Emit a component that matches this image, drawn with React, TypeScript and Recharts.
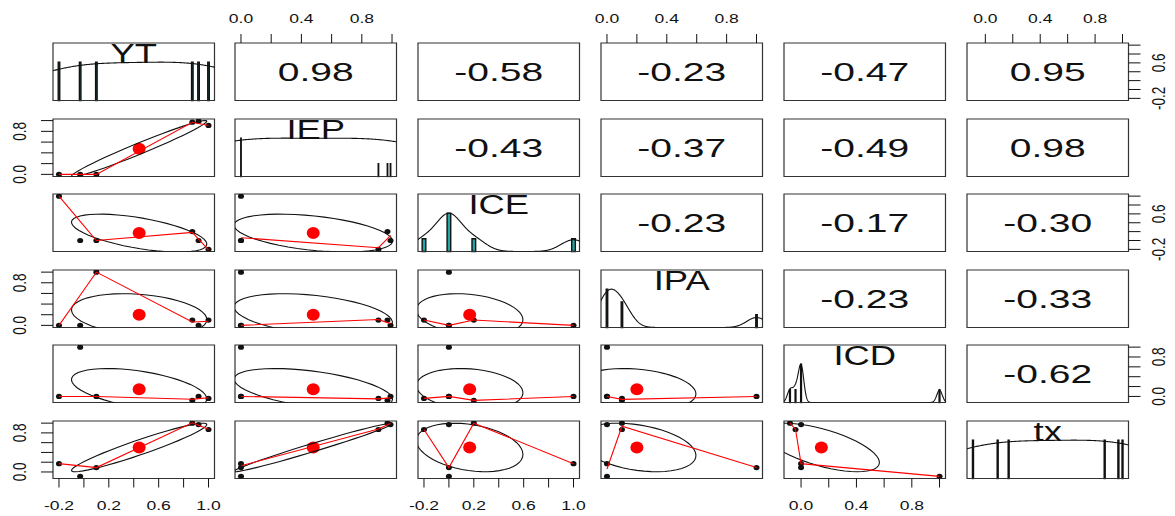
import React from 'react';
import { ScatterChart, Scatter, XAxis, YAxis, ReferenceArea, Customized } from 'recharts';

// six cases
const YT = [-0.2, -0.03, 0.1, 0.87, 0.92, 1.0];
const IEP = [0, 0, 0, 0.97, 0.99, 0.91];
const ICE = [1.0, 0, 0, 0.2, 0, -0.2];
const IPA = [0, 0, 1.0, 0.1, 0, 0.1];
const ICD = [0, 1.0, 0, -0.08, 0, -0.04];
const tx = [0.17, -0.09, 0.09, 1.0, 0.97, 0.87];

const varNames = ['YT', 'IEP', 'ICE', 'IPA', 'ICD', 'tx'];
const series = [YT, IEP, ICE, IPA, ICD, tx];

// correlations printed in the upper triangle, row by row
const corRow1 = ['0.98', '-0.58', '-0.23', '-0.47', '0.95'];
const corRow2 = ['-0.43', '-0.37', '-0.49', '0.98'];
const corRow3 = ['-0.23', '-0.17', '-0.30'];
const corRow4 = ['-0.23', '-0.33'];
const corRow5 = ['-0.62'];
const corRows = [corRow1, corRow2, corRow3, corRow4, corRow5];

const ticksWide = [-0.2, 0, 0.2, 0.4, 0.6, 0.8, 1.0];
const ticksUnit = [0, 0.2, 0.4, 0.6, 0.8, 1.0];
const varTicks = [ticksWide, ticksUnit, ticksWide, ticksUnit, ticksUnit, ticksUnit];

const N = 6;
const PAD = 52;
const PW = 161.5;
const PH = 57.5;
const colX = (c: number) => 52.5 + 182.8 * c;
const rowY = (r: number) => 43 + 75.5 * r;
const FONT = "'Liberation Sans', Arial, Helvetica, sans-serif";
const SX = 1.3;

const mean = (v: number[]) => v.reduce((a, b) => a + b, 0) / v.length;
const sd = (v: number[]) => {
  const m = mean(v);
  return Math.sqrt(v.reduce((a, b) => a + (b - m) ** 2, 0) / (v.length - 1));
};
const cor = (a: number[], b: number[]) => {
  const ma = mean(a), mb = mean(b);
  let sab = 0, saa = 0, sbb = 0;
  a.forEach((x, i) => {
    sab += (x - ma) * (b[i] - mb);
    saa += (x - ma) ** 2;
    sbb += (b[i] - mb) ** 2;
  });
  return sab / Math.sqrt(saa * sbb);
};
const quantile7 = (s: number[], p: number) => {
  const h = (s.length - 1) * p;
  const lo = Math.floor(h);
  const hi = Math.min(lo + 1, s.length - 1);
  return s[lo] + (h - lo) * (s[hi] - s[lo]);
};
const padRange = (v: number[]): [number, number] => {
  const lo = Math.min(...v), hi = Math.max(...v);
  const d = (hi - lo) * 0.04;
  return [lo - d, hi + d];
};

// kernel density, bw = nrd * 1.2, scaled to max 1
const densityCurve = (v: number[]) => {
  const n = v.length;
  const s = [...v].sort((a, b) => a - b);
  const h = (quantile7(s, 0.75) - quantile7(s, 0.25)) / 1.34;
  const bw = 1.06 * Math.min(sd(v), h) * Math.pow(n, -0.2) * 1.2;
  const from = s[0] - 3 * bw, to = s[n - 1] + 3 * bw;
  const pts: { x: number; y: number }[] = [];
  for (let k = 0; k < 512; k++) {
    const t = from + ((to - from) * k) / 511;
    let d = 0;
    v.forEach(xv => { d += Math.exp(-0.5 * ((t - xv) / bw) ** 2); });
    pts.push({ x: t, y: d });
  }
  const mx = Math.max(...pts.map(p => p.y));
  return pts.map(p => ({ x: p.x, y: p.y / mx }));
};

const histBars = (v: number[]) => {
  const counts = new Map<number, number>();
  v.forEach(x => counts.set(x, (counts.get(x) || 0) + 1));
  const keys = [...counts.keys()].sort((a, b) => a - b);
  const maxC = Math.max(...counts.values());
  let minDiff = Infinity;
  for (let k = 1; k < keys.length; k++) minDiff = Math.min(minDiff, keys[k] - keys[k - 1]);
  const ib = (minDiff * (keys.length - 1)) / 41;
  return keys.map(k => ({ x1: k - ib, x2: k + ib, h: (counts.get(k) || 0) / maxC }));
};

const ellipsePts = (xv: number[], yv: number[]) => {
  const xm = mean(xv), ym = mean(yv), xs = sd(xv), ys = sd(yv), r = cor(xv, yv);
  const th = r !== 0 ? Math.sign(r) / Math.SQRT2 : 1 / Math.SQRT2;
  const a = Math.sqrt(1 + r), b = Math.sqrt(1 - r);
  const pts: { x: number; y: number }[] = [];
  for (let k = 0; k <= 51; k++) {
    const ang = (k * 2 * Math.PI) / 51;
    const u = Math.cos(ang) * a, w = Math.sin(ang) * b;
    pts.push({ x: (u * th - w * th) * xs + xm, y: (u * th + w * th) * ys + ym });
  }
  return pts;
};

// port of R's clowess (f = 2/3, iter = 3)
const lowess = (xIn: number[], yIn: number[], f = 2 / 3, nsteps = 3) => {
  const n = xIn.length;
  const idx = xIn.map((_, i) => i).sort((p, q) => xIn[p] - xIn[q] || p - q);
  const x = [0, ...idx.map(i => xIn[i])];
  const y = [0, ...idx.map(i => yIn[i])];
  const delta = 0.01 * (x[n] - x[1]);
  const ns = Math.max(2, Math.min(n, Math.floor(f * n + 1e-7)));
  const ys = new Array(n + 1).fill(0);
  const rw = new Array(n + 1).fill(0);
  const res = new Array(n + 1).fill(0);
  const w = new Array(n + 1).fill(0);

  const lowest = (xs: number, nleft: number, nright: number, userw: boolean) => {
    const range = x[n] - x[1];
    const h = Math.max(xs - x[nleft], x[nright] - xs);
    const h9 = 0.999 * h, h1 = 0.001 * h;
    let a = 0;
    let j = nleft;
    while (j <= n) {
      w[j] = 0;
      const r = Math.abs(x[j] - xs);
      if (r <= h9) {
        w[j] = r <= h1 ? 1 : (1 - (r / h) ** 3) ** 3;
        if (userw) w[j] *= rw[j];
        a += w[j];
      } else if (x[j] > xs) break;
      j++;
    }
    const nrt = j - 1;
    if (a <= 0) return null;
    for (j = nleft; j <= nrt; j++) w[j] /= a;
    if (h > 0) {
      a = 0;
      for (j = nleft; j <= nrt; j++) a += w[j] * x[j];
      let b = xs - a;
      let c = 0;
      for (j = nleft; j <= nrt; j++) c += w[j] * (x[j] - a) * (x[j] - a);
      if (Math.sqrt(c) > 0.001 * range) {
        b /= c;
        for (j = nleft; j <= nrt; j++) w[j] *= b * (x[j] - a) + 1;
      }
    }
    let out = 0;
    for (j = nleft; j <= nrt; j++) out += w[j] * y[j];
    return out;
  };

  let iter = 1;
  while (iter <= nsteps + 1) {
    let nleft = 1, nright = ns, last = 0, i = 1;
    for (;;) {
      if (nright < n) {
        const d1 = x[i] - x[nleft], d2 = x[nright + 1] - x[i];
        if (d1 > d2) { nleft++; nright++; continue; }
      }
      const fit = lowest(x[i], nleft, nright, iter > 1);
      ys[i] = fit === null ? y[i] : fit;
      if (last < i - 1) {
        const denom = x[i] - x[last];
        for (let j = last + 1; j < i; j++) {
          const alpha = (x[j] - x[last]) / denom;
          ys[j] = alpha * ys[i] + (1 - alpha) * ys[last];
        }
      }
      last = i;
      const cut = x[last] + delta;
      for (i = last + 1; i <= n; i++) {
        if (x[i] > cut) break;
        if (x[i] === x[last]) { ys[i] = ys[last]; last = i; }
      }
      i = Math.max(last + 1, i - 1);
      if (last >= n) break;
    }
    let sc = 0;
    for (let k = 1; k <= n; k++) { res[k] = y[k] - ys[k]; sc += Math.abs(res[k]); }
    sc /= n;
    if (iter > nsteps) break;
    const ar = res.slice(1).map(Math.abs).sort((p, q) => p - q);
    const m1 = Math.floor(n / 2);
    const cmad = n % 2 === 0 ? 3 * (ar[m1] + ar[n - m1 - 1]) : 6 * ar[m1];
    if (cmad < 1e-7 * sc) break;
    const c9 = 0.999 * cmad, c1 = 0.001 * cmad;
    for (let k = 1; k <= n; k++) {
      const r = Math.abs(res[k]);
      rw[k] = r <= c1 ? 1 : r <= c9 ? (1 - (r / cmad) ** 2) ** 2 : 0;
    }
    iter++;
  }
  return x.slice(1).map((xv, k) => ({ x: xv, y: ys[k + 1] }));
};

const StretchText = ({ x, y, text, size, sx, rotate }: { x: number; y: number; text: string; size: number; sx: number; rotate?: boolean }) => (
  <text
    transform={`translate(${x},${y}) scale(${sx},1)${rotate ? ' rotate(-90)' : ''}`}
    textAnchor="middle"
    dy={rotate ? '0.36em' : 0}
    fontFamily={FONT}
    fontSize={size}
    fill="#111"
  >
    {text}
  </text>
);

const noShape = () => <g />;
const dotShape = (props: any) => <ellipse cx={props.cx} cy={props.cy} rx={3} ry={2.6} fill="#111" />;
const meanShape = (props: any) => <ellipse cx={props.cx} cy={props.cy} rx={6.5} ry={6} fill="#ff0000" />;

const Panel = ({ row, col }: { row: number; col: number }) => {
  const xv = series[col];
  const yv = series[row];
  const xDom = padRange(xv);
  const yDom: [number, number] = row === col ? [0, 1.5] : padRange(yv);
  const showTop = row === 0 && col % 2 === 1;
  const showBottom = row === N - 1 && col % 2 === 0;
  const showLeft = col === 0 && row % 2 === 1;
  const showRight = col === N - 1 && row % 2 === 0;
  const margin = {
    top: showTop ? 0 : PAD,
    bottom: showBottom ? 0 : PAD,
    left: showLeft ? 0 : PAD,
    right: showRight ? 0 : PAD,
  };
  const xTicks = varTicks[col];
  const yTicks = varTicks[row];

  const xTick = (props: any) => {
    const i = xTicks.indexOf(props.payload.value);
    if (i % 2 !== 0) return <g />;
    const yy = showTop ? PAD - 20.5 : PAD + PH + 31;
    return <StretchText x={props.x} y={yy} text={props.payload.value.toFixed(1)} size={13.5} sx={SX} />;
  };
  const yTick = (props: any) => {
    const i = yTicks.indexOf(props.payload.value);
    if (i % 4 !== 0) return <g />;
    const xx = showLeft ? PAD - 33 : PAD + PW + 30.5;
    return <StretchText x={xx} y={props.y} text={props.payload.value.toFixed(1)} size={13.5} sx={SX} rotate />;
  };

  const pts = xv.map((x, i) => ({ x, y: yv[i] }));
  const cx = PAD + PW / 2;

  let content: React.ReactNode = null;
  if (row === col) {
    const bars = histBars(xv);
    content = [
      ...bars.map((b, k) => (
        <ReferenceArea key={`h${k}`} x1={b.x1} x2={b.x2} y1={0} y2={b.h} fill="#22a6a6" fillOpacity={1} stroke="#111" strokeWidth={1.4} />
      )),
      <Scatter key="dens" data={densityCurve(xv)} line={{ stroke: '#111', strokeWidth: 1.1 }} shape={noShape} isAnimationActive={false} />,
      <Customized key="name" component={() => <StretchText x={cx} y={PAD + 20} text={varNames[col]} size={28} sx={SX} />} />,
    ];
  } else if (row > col) {
    content = [
      <Scatter key="pts" data={pts} shape={dotShape} isAnimationActive={false} />,
      <Scatter key="mean" data={[{ x: mean(xv), y: mean(yv) }]} shape={meanShape} isAnimationActive={false} />,
      <Scatter key="ell" data={ellipsePts(xv, yv)} line={{ stroke: '#111', strokeWidth: 1.1 }} shape={noShape} isAnimationActive={false} />,
      <Scatter key="low" data={lowess(xv, yv)} line={{ stroke: '#ff0000', strokeWidth: 1.1 }} shape={noShape} isAnimationActive={false} />,
    ];
  } else {
    const label = corRows[row][col - row - 1];
    content = [
      <Scatter key="pts" data={pts} shape={noShape} isAnimationActive={false} />,
      <Customized key="cor" component={() => <StretchText x={cx} y={PAD + PH / 2 + 9.3} text={label} size={26} sx={1.5} />} />,
    ];
  }

  return (
    <div style={{ position: 'absolute', left: colX(col) - PAD, top: rowY(row) - PAD }}>
      <ScatterChart width={PW + 2 * PAD} height={PH + 2 * PAD} margin={margin}>
        <XAxis
          type="number"
          dataKey="x"
          domain={xDom}
          allowDataOverflow
          hide={!showTop && !showBottom}
          orientation={showTop ? 'top' : 'bottom'}
          height={PAD}
          ticks={xTicks}
          interval={0}
          tickSize={9}
          tick={xTick}
          tickLine={{ stroke: '#111' }}
          axisLine={false}
        />
        <YAxis
          type="number"
          dataKey="y"
          domain={yDom}
          allowDataOverflow
          hide={!showLeft && !showRight}
          orientation={showRight ? 'right' : 'left'}
          width={PAD}
          ticks={yTicks}
          interval={0}
          tickSize={12}
          tick={yTick}
          tickLine={{ stroke: '#111' }}
          axisLine={false}
        />
        {content}
        <ReferenceArea x1={xDom[0]} x2={xDom[1]} y1={yDom[0]} y2={yDom[1]} fill="none" fillOpacity={0} stroke="#333" strokeWidth={1.2} />
      </ScatterChart>
    </div>
  );
};

const App = () => {
  const cells: React.ReactNode[] = [];
  for (let r = 0; r < N; r++) {
    for (let c = 0; c < N; c++) {
      cells.push(<Panel key={`${r}-${c}`} row={r} col={c} />);
    }
  }
  return (
    <div style={{ position: 'absolute', left: 0, top: 0, width: 1175, height: 516, background: '#fff' }}>
      {cells}
    </div>
  );
};

export default App;
